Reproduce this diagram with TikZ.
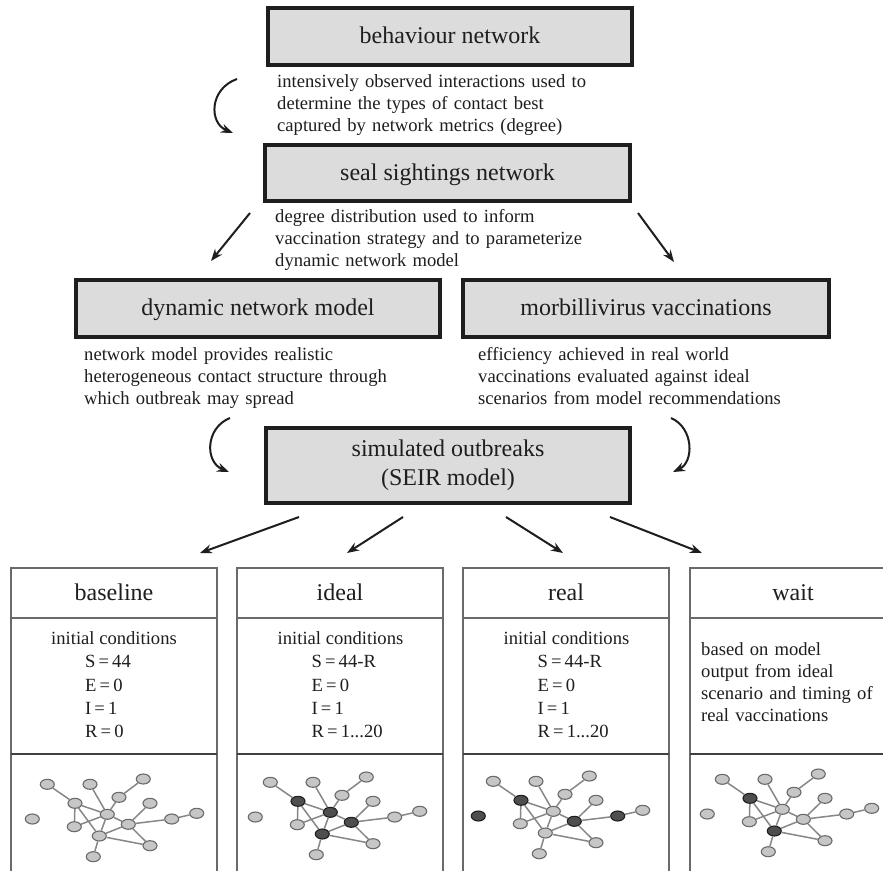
\documentclass[tikz,border=0pt]{standalone}
\usepackage{fontspec}
\setmainfont{Liberation Serif}
\usetikzlibrary{arrows.meta,shapes.geometric}

\definecolor{boxgray}{HTML}{DCDCDC}
\definecolor{ink}{HTML}{1E1E1E}
\definecolor{framegray}{HTML}{6A6A6A}
\definecolor{netlight}{HTML}{C6C6C6}
\definecolor{netdark}{HTML}{4E4E4E}
\definecolor{netedge}{HTML}{878787}
\definecolor{netborder}{HTML}{6A6A6A}

\newcommand\figtitlefont{\fontsize{24}{29}\selectfont}
\newcommand\figtextfont{\fontsize{18.6}{22.2}\selectfont}
\newcommand\figcondfont{\fontsize{18.6}{23.3}\selectfont}

\newcommand\defdark[2]{\foreach \dn in {#2}{\expandafter\gdef\csname dk#1\dn\endcsname{}}}
\defdark{i}{6,8,9,13}
\defdark{r}{6,7,9,10}
\defdark{w}{6,13}

\newcommand\seirnet[3]{%
 \begin{scope}[shift={(#2,#3)}]
 \foreach \dn/\nx/\ny in {1/36.3/30.3, 2/79/30.3, 3/132.3/25, 4/108/43.3, 5/139/49.3,
   6/64/49.3, 7/21.3/65, 8/96.3/60.3, 9/117.3/70.3, 10/160.7/65, 11/185.7/59.3,
   12/63.3/72.7, 13/88.3/82, 14/139/91.7, 15/82.3/102.7}{%
   \def\nfill{netlight}\def\ndraw{netborder}%
   \ifcsname dk#1\dn\endcsname\def\nfill{netdark}\def\ndraw{ink}\fi
   \node[netnode, fill=\nfill, draw=\ndraw] (#1\dn) at (\nx,\ny) {};
 }
 \foreach \ea/\eb in {1/6, 2/8, 3/4, 4/8, 5/9, 6/8, 6/12, 6/13, 12/8, 8/13, 8/9,
   9/13, 13/14, 9/14, 9/10, 10/11, 13/15}
   \draw[netline] (#1\ea) -- (#1\eb);
 \end{scope}}

\newcommand\lowpanel[3]{%
 \begin{scope}[shift={(#2,0)}]
 \draw[lowframe] (0,880) -- (0,568) -- (206,568) -- (206,880);
 \draw[sepline] (0,618) -- (206,618);
 \draw[netsep] (0,754) -- (206,754);
 \node[paneltitle, anchor=base] (#1) at (103,600) {#3};
 \end{scope}}

\newcommand\conds[4]{%
 \begin{scope}[shift={(#2,0)}]
 \node[condtext, anchor=base] (#1ic) at (0,644.5) {initial conditions};
 \node[condtext, anchor=base west, text width=120pt, align=left] (#1eq) at (-29,667.8)
   {S\,=\,#3\\E\,=\,0\\I\,=\,1\\R\,=\,#4};
 \end{scope}}

\begin{document}
\begin{tikzpicture}[x=1pt, y=-1pt,
  mainbox/.style={draw=ink, line width=3.2pt, fill=boxgray, minimum width=364pt,
    minimum height=57pt, inner sep=0pt, font=\figtitlefont, text=ink},
  oneline/.style={text height=18pt, text depth=4pt},
  desc/.style={font=\figtextfont, text=ink, inner sep=0pt, text width=360pt, align=left},
  condtext/.style={font=\figcondfont, text=ink, inner sep=0pt},
  paneltitle/.style={font=\figtitlefont, text=ink, inner sep=0pt},
  arr/.style={draw=ink, line width=2pt, -{Stealth[length=12pt,width=9pt]}},
  lowframe/.style={draw=framegray, line width=1.5pt},
  sepline/.style={draw=framegray, line width=1.4pt},
  netsep/.style={draw=ink!85, line width=2.2pt},
  netnode/.style={ellipse, minimum width=14pt, minimum height=10pt, inner sep=0pt, line width=1.1pt},
  netline/.style={draw=netedge, line width=1.5pt}]

\useasboundingbox (0,0) rectangle (883,870);
\clip (0,0) rectangle (883,870);
\fill[white] (0,0) rectangle (883,870);

% main boxes
\node[mainbox, oneline] (beh) at (450,36.5) {behaviour network};
\node[mainbox, oneline, minimum width=365pt, minimum height=56pt] (seal) at (447.5,173) {seal sightings network};
\node[mainbox, oneline] (dyn) at (258,308.5) {dynamic network model};
\node[mainbox, oneline, minimum width=366pt] (morb) at (646,308.5) {morbillivirus vaccinations};
\node[mainbox, minimum height=75pt, align=center] (sim) at (448,465.5) {simulated outbreaks\\(SEIR model)};

% descriptive texts
\node[desc, anchor=base west] (t1) at (277,87.5) {intensively observed interactions used to\\determine the types of contact best\\captured by network metrics (degree)};
\node[desc, anchor=base west] (t2) at (275,222) {degree distribution used to inform\\vaccination strategy and to parameterize\\dynamic network model};
\node[desc, anchor=base west] (t3) at (84,360) {network model provides realistic\\heterogeneous contact structure through\\which outbreak may spread};
\node[desc, anchor=base west] (t4) at (478,360) {efficiency achieved in real world\\vaccinations evaluated against ideal\\scenarios from model recommendations};

% curved arrows
\coordinate (c1s) at (237,79);  \coordinate (c1e) at (233,133);
\coordinate (c2s) at (230,418); \coordinate (c2e) at (229,472);
\coordinate (c3s) at (671,418); \coordinate (c3e) at (673,472);
\draw[arr] (c1s) .. controls (209,89) and (209,123) .. (c1e);
\draw[arr] (c2s) .. controls (205,428) and (205,462) .. (c2e);
\draw[arr] (c3s) .. controls (694,428) and (694,462) .. (c3e);

% straight arrows from seal sightings network
\coordinate (s1) at (250,213); \coordinate (e1) at (211,261);
\coordinate (s2) at (638,213); \coordinate (e2) at (674,262);
\draw[arr] (s1) -- (e1);
\draw[arr] (s2) -- (e2);

% lower panels
\lowpanel{baseline}{11}{baseline}
\lowpanel{ideal}{237}{ideal}
\lowpanel{real}{463}{real}
\lowpanel{wait}{690}{wait}

% arrows from simulated outbreaks
\coordinate (a1) at (299,517); \coordinate (b1) at (200,553);
\coordinate (a2) at (403,517); \coordinate (b2) at (347,553);
\coordinate (a3) at (506,517); \coordinate (b3) at (563,553);
\coordinate (a4) at (610,517); \coordinate (b4) at (702,553);
\draw[arr] (a1) -- (b1);
\draw[arr] (a2) -- (b2);
\draw[arr] (a3) -- (b3);
\draw[arr] (a4) -- (b4);

% conditions
\conds{bc}{114}{44}{0}
\conds{ic}{340.5}{44-R}{1...20}
\conds{rc}{566.5}{44-R}{1...20}
\node[condtext, anchor=base west, text width=180pt, align=left, font=\fontsize{18.6}{22.3}\selectfont] (wt) at (701,655)
  {based on model\\output from ideal\\scenario and timing of\\real vaccinations};

% networks
\seirnet{b}{11}{754}
\seirnet{i}{234}{752}
\seirnet{r}{457}{751}
\seirnet{w}{686}{749}
\end{tikzpicture}
\end{document}
